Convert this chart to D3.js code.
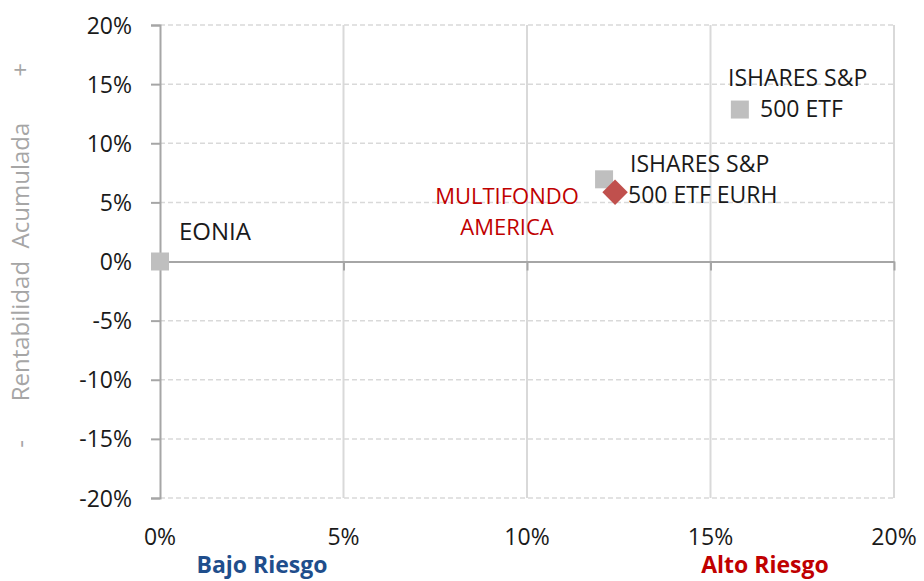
<!DOCTYPE html>
<html>
<head>
<meta charset="utf-8">
<script src="https://cdn.jsdelivr.net/npm/d3@7"></script>
<style>
  body { margin: 0; background: #fff; }
  text { font-family: "Open Sans", "Noto Sans", sans-serif; }
</style>
</head>
<body>
<script>
'use strict';
// risk (x) vs accumulated return (y), both in %
const funds = ["EONIA", "ISHARES S&P 500 ETF", "ISHARES S&P 500 ETF EURH", "MULTIFONDO AMERICA"];
const riesgo = [0.0, 15.8, 12.1, 12.4];
const rentabilidad = [0.0, 12.85, 6.95, 5.85];
const marker = ["square", "square", "square", "diamond"];
const xTicks = [0, 5, 10, 15, 20];
const yTicks = [20, 15, 10, 5, 0, -5, -10, -15, -20];

(function() {
    let svg = d3.select('body')
        .append('svg')
        .attr('width', 924)
        .attr('height', 581);

    let xScale = d3.scaleLinear().domain([0, 20]).range([160, 894]);
    let yScale = d3.scaleLinear().domain([-20, 20]).range([498, 25]);

    let data = funds.map((f, i) => ({name: f, x: riesgo[i], y: rentabilidad[i], shape: marker[i]}));

    // vertical gridlines (solid)
    svg.append('g').selectAll('line')
        .data(xTicks.filter(d => d > 0))
        .enter().append('line')
        .attr('x1', d => xScale(d)).attr('x2', d => xScale(d))
        .attr('y1', yScale(20)).attr('y2', yScale(-20))
        .attr('stroke', '#d9d9d9').attr('stroke-width', 2);

    // horizontal gridlines (dashed)
    svg.append('g').selectAll('line')
        .data(yTicks.filter(d => d != 0))
        .enter().append('line')
        .attr('x1', xScale(0)).attr('x2', xScale(20))
        .attr('y1', d => yScale(d)).attr('y2', d => yScale(d))
        .attr('stroke', '#d9d9d9').attr('stroke-width', 1.5)
        .attr('stroke-dasharray', '5,3');

    // y axis on the left
    let yAxis = d3.axisLeft(yScale).tickValues(yTicks).tickSize(9).tickPadding(19)
        .tickFormat(d => d + '%');
    let gy = svg.append('g')
        .attr('transform', 'translate(' + xScale(0) + ',0)')
        .call(yAxis);
    gy.select('.domain').attr('stroke', '#a6a6a6').attr('stroke-width', 2);
    gy.selectAll('.tick line').attr('stroke', '#a6a6a6').attr('stroke-width', 2);
    gy.selectAll('.tick text').style('font-size', '23px').attr('fill', '#1a1a1a')
        .attr('dy', '0.35em');

    // x axis through zero
    let xAxis = d3.axisBottom(xScale).tickValues(xTicks).tickSize(9).tickSizeOuter(0).tickFormat('');
    let gx = svg.append('g')
        .attr('transform', 'translate(0,' + yScale(0) + ')')
        .call(xAxis);
    gx.select('.domain').attr('stroke', '#a6a6a6').attr('stroke-width', 2);
    gx.selectAll('.tick line').attr('stroke', '#a6a6a6').attr('stroke-width', 2)
        .filter(d => d == 0).remove();

    // x tick labels below the plot
    svg.append('g').selectAll('text')
        .data(xTicks)
        .enter().append('text')
        .attr('x', d => xScale(d))
        .attr('y', 545)
        .attr('text-anchor', 'middle')
        .style('font-size', '23px')
        .attr('fill', '#1a1a1a')
        .text(d => d + '%');

    // points
    let sq = 18;
    svg.append('g').selectAll('path')
        .data(data)
        .enter().append('path')
        .attr('transform', d => 'translate(' + xScale(d.x) + ',' + yScale(d.y) + ')' + (d.shape == 'diamond' ? 'rotate(45)' : ''))
        .attr('d', d3.symbol().type(d3.symbolSquare).size(sq * sq))
        .attr('fill', d => d.shape == 'diamond' ? '#c0504d' : '#bfbfbf');

    // point labels
    function label(lines, x, y, color, anchor, size) {
        let t = svg.append('text')
            .attr('text-anchor', anchor || 'start')
            .attr('fill', color)
            .style('font-size', (size || 23) + 'px');
        lines.forEach((l, i) => {
            t.append('tspan').attr('x', l[1] != null ? l[1] : x).attr('y', y + i * 31).text(l[0]);
        });
    }
    label([["EONIA"]], 179, 240, '#1a1a1a', 'start', 24);
    label([["ISHARES S&P"], ["500 ETF", 760]], 728, 86, '#1a1a1a');
    label([["ISHARES S&P", 630], ["500 ETF EURH", 628]], 630, 172, '#1a1a1a');
    label([["MULTIFONDO"], ["AMERICA"]], 507, 204, '#c00000', 'middle', 22);

    // axis titles
    svg.append('text')
        .attr('transform', 'translate(29,' + 262 + ')rotate(-90)')
        .attr('text-anchor', 'middle')
        .attr('fill', '#a6a6a6')
        .style('font-size', '24px')
        .style('white-space', 'pre')
        .text('Rentabilidad  Acumulada');
    svg.append('text')
        .attr('transform', 'translate(29,70)rotate(-90)')
        .attr('text-anchor', 'middle')
        .attr('fill', '#a6a6a6')
        .style('font-size', '24px')
        .text('+');
    svg.append('text')
        .attr('transform', 'translate(29,444)rotate(-90)')
        .attr('text-anchor', 'middle')
        .attr('fill', '#a6a6a6')
        .style('font-size', '24px')
        .text('-');

    svg.append('text')
        .attr('x', 262).attr('y', 573)
        .attr('text-anchor', 'middle')
        .attr('fill', '#1f4e8c')
        .style('font-size', '23px')
        .style('font-weight', 'bold')
        .text('Bajo Riesgo');
    svg.append('text')
        .attr('x', 765).attr('y', 573)
        .attr('text-anchor', 'middle')
        .attr('fill', '#c00000')
        .style('font-size', '23px')
        .style('font-weight', 'bold')
        .text('Alto Riesgo');
})();
</script>
</body>
</html>
